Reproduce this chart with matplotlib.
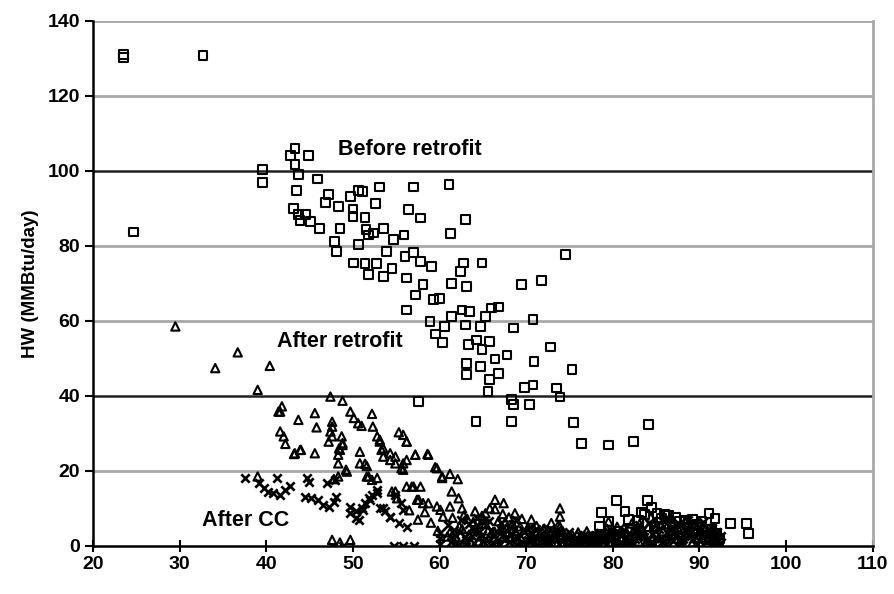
import matplotlib
matplotlib.use("Agg")
import matplotlib.pyplot as plt

# Before retrofit (squares)
before_x = [23.5, 23.5, 32.7, 24.7,
            39.6, 39.6, 43.3, 42.8, 44.9, 43.3, 43.7, 45.9, 43.5, 47.2, 46.8, 48.3, 49.7, 50.6, 51.1,
            53.1, 57.0, 52.6, 50.0, 50.0, 51.4, 43.1, 43.7, 44.5, 43.9, 45.1, 46.1, 48.5, 56.4, 57.8,
            51.5, 52.4, 53.5, 51.8, 54.7, 55.9, 47.9, 48.1, 50.6, 53.9, 56.0, 57.0, 57.8, 59.1, 50.1,
            51.4, 52.7, 54.5, 51.8, 53.5, 56.2,
            61.1, 63.0, 61.3, 74.5, 62.8, 62.4, 64.9,
            58.1, 61.4, 63.1, 69.5, 71.8, 57.2, 59.3, 60.0, 56.2, 58.9, 61.4, 62.6, 63.5, 60.6, 59.5,
            60.3, 63.0, 64.7, 65.3, 66.0, 66.8, 68.5, 70.8, 63.3, 64.3, 64.9, 65.8, 66.4, 67.8, 63.1,
            63.1, 64.7, 65.8, 66.8, 70.9, 72.8, 75.3, 69.8, 70.8, 73.5, 73.9, 65.6, 57.6, 68.3, 68.5,
            70.4, 64.2, 68.3, 75.5, 76.4, 79.5, 82.4, 84.1,
            80.4, 81.4, 78.7, 78.5, 79.5, 84.0, 84.5, 86.4, 91.1, 91.8, 93.6, 95.4, 95.7, 90.3, 88.4,
            92.2, 92.0, 83.7, 86.0,
            79.2, 80.8, 82.0, 83.0, 84.8, 85.6, 86.9, 87.7, 88.9, 89.7, 90.6, 91.4, 92.3, 87.2, 89.2,
            86.3, 85.1, 83.3, 81.8, 80.6]
before_y = [130.3, 131.0, 130.7, 83.7,
            100.3, 96.9, 106.0, 104.0, 104.0, 101.6, 99.0, 97.8, 94.7, 93.6, 91.6, 90.5, 93.2, 94.7, 94.5,
            95.7, 95.7, 91.2, 89.8, 87.8, 87.6, 90.0, 88.3, 88.3, 86.8, 86.5, 84.7, 84.7, 89.6, 87.4,
            84.4, 83.4, 84.7, 82.9, 81.6, 82.9, 81.1, 78.5, 80.3, 78.5, 77.2, 78.2, 75.8, 74.5, 75.4,
            75.2, 75.2, 74.0, 72.3, 71.8, 71.4,
            96.3, 87.1, 83.2, 77.6, 75.4, 73.2, 75.4,
            69.6, 69.9, 69.2, 69.6, 70.7, 66.9, 65.6, 66.0, 62.9, 59.8, 61.2, 62.9, 62.5, 58.5, 56.5,
            54.2, 58.9, 58.5, 61.2, 63.4, 63.7, 58.1, 60.4, 53.6, 54.9, 52.4, 54.5, 49.8, 50.9, 48.7,
            45.6, 47.8, 44.3, 45.9, 49.1, 53.0, 47.1, 42.3, 42.9, 42.1, 39.7, 41.2, 38.5, 39.1, 37.6,
            37.6, 33.1, 33.1, 32.9, 27.2, 26.9, 27.8, 32.3,
            12.1, 9.2, 8.9, 5.3, 6.5, 12.1, 10.2, 8.0, 8.7, 7.4, 5.9, 5.9, 3.2, 6.5, 6.9,
            0.8, 3.4, 8.3, 8.3,
            3.1, 2.0, 4.5, 6.8, 5.2, 7.3, 4.0, 6.5, 3.2, 5.8, 2.1, 4.4, 1.9, 7.5, 7.1,
            8.0, 8.6, 8.9, 7.1, 3.9]

# After retrofit (triangles)
after_x = [29.5, 36.7, 34.1, 40.4, 39.0, 47.4, 48.8, 41.8, 41.4, 43.7, 45.6, 45.8, 47.6, 41.6, 42.0,
           42.2, 43.2, 43.9, 45.6, 47.4, 47.6, 49.7, 50.1, 50.6, 51.0, 52.2, 48.4, 48.3, 48.3, 48.7,
           48.8, 50.8, 50.8, 51.4, 49.3, 52.3, 52.8, 53.1, 53.5, 54.3, 54.9, 55.3, 56.2, 57.2, 58.6,
           55.8, 59.7, 60.3, 51.8, 52.8, 56.2, 57.0, 57.8, 54.9, 57.4, 58.1, 47.6, 48.5, 49.7, 39.0,
           41.6, 47.6, 55.8, 47.2, 48.8, 48.5, 43.3, 44.0, 49.2, 51.6, 53.1, 53.3, 53.5, 54.3, 54.9,
           55.6, 56.2, 47.8, 48.3, 51.6, 52.2, 54.5, 55.1,
           56.2, 57.2, 58.7, 55.8, 59.5, 60.3, 61.2, 62.1, 56.8, 61.4, 62.2, 57.6, 58.7, 59.7, 60.1,
           61.2, 62.6, 64.1, 65.3, 66.4, 67.4, 68.7, 65.8, 73.9, 73.9, 72.0, 79.5,
           61.5, 62.3, 62.8, 63.4, 63.9, 64.5, 65.0, 65.6, 66.2, 66.8, 67.3, 67.9, 68.4, 69.0, 69.5,
           70.1, 70.7, 71.2, 71.8, 72.4, 72.9, 73.5, 74.2, 74.8, 75.3, 75.9, 76.5, 77.0, 77.6, 78.2,
           78.8, 79.3, 79.9, 80.5, 81.0, 81.6, 82.2, 82.7, 83.3, 83.9, 84.4, 85.0, 85.6, 86.1, 86.7,
           87.3, 87.8, 88.4, 89.0, 89.5, 90.1, 90.7, 91.2, 91.8,
           56.5, 57.5, 58.3, 59.0, 59.8, 60.4, 60.9,
           61.2, 62.0, 62.6, 63.2, 64.2, 64.8, 65.3, 66.0, 66.6, 67.1, 67.6, 68.1, 68.7, 69.3, 69.8,
           70.4, 71.0, 71.5, 72.1, 72.7, 73.2, 73.7, 74.5, 75.1, 75.6, 76.2, 76.8, 77.3, 77.9, 78.5,
           79.1, 79.6, 80.2, 80.8, 81.3, 81.9, 82.4, 83.0, 83.6, 84.1, 84.7, 85.3, 85.8, 86.4, 87.0,
           87.5, 88.1, 88.7, 89.2, 89.8, 90.4, 91.0, 91.5,
           62.2, 63.6, 65.5, 67.0, 68.9, 70.9, 72.3, 74.3, 76.0, 77.8, 79.8, 81.5, 83.1, 84.9, 86.9,
           88.6, 90.2, 91.6, 64.9, 66.4, 68.0, 70.6, 73.9]
after_y = [58.5, 51.6, 47.4, 48.0, 41.6, 39.8, 38.7, 37.2, 35.8, 33.6, 35.4, 31.6, 33.1, 30.5, 29.2,
           27.2, 24.5, 25.6, 24.7, 30.5, 29.2, 35.8, 34.1, 32.7, 32.0, 35.2, 26.0, 24.3, 22.0, 29.2,
           26.9, 25.1, 22.0, 21.9, 19.8, 31.8, 29.2, 27.8, 26.0, 24.7, 23.8, 30.3, 27.8, 24.3, 24.5,
           22.0, 20.7, 18.5, 18.5, 18.1, 15.8, 15.8, 15.8, 14.5, 12.3, 11.4, 1.6, 0.9, 1.6, 18.5,
           35.8, 31.8, 29.6, 27.8, 27.4, 25.6, 24.7, 25.6, 20.3, 21.3, 28.3, 25.6, 23.8, 22.9, 22.0,
           20.7, 22.9, 17.8, 18.5, 18.5, 17.6, 14.5, 12.7,
           27.8, 24.3, 24.3, 20.3, 21.0, 18.1, 19.2, 17.8, 15.8, 14.5, 12.7, 12.3, 11.4, 10.5, 9.6,
           10.5, 10.0, 9.2, 8.7, 12.3, 11.4, 8.7, 10.0, 7.8, 5.1, 4.5, 6.5,
           7.5, 5.2, 8.1, 3.0, 6.4, 1.2, 7.0, 4.1, 2.3, 6.6, 8.5, 3.7, 5.9, 1.8, 7.2,
           4.4, 2.6, 5.3, 0.9, 3.4, 6.1, 2.1, 4.0, 1.3, 3.0, 0.6, 2.4, 3.9, 1.5, 3.2,
           0.8, 4.6, 2.2, 5.1, 1.7, 3.6, 6.0, 2.8, 4.9, 1.0, 7.6, 3.3, 5.6, 2.0, 7.1,
           4.2, 1.4, 6.3, 3.1, 5.4, 0.7, 4.5, 2.5, 1.1,
           9.5, 7.0, 9.0, 6.2, 4.0, 7.8, 2.5,
           3.6, 1.8, 4.5, 7.2, 4.6, 2.6, 5.9, 3.4, 1.0, 4.3, 6.3, 2.1, 3.9, 5.2, 0.4,
           2.1, 3.9, 1.5, 4.6, 0.6, 3.0, 5.5, 2.6, 1.5, 0.3, 1.4, 0.5, 2.2, 0.4, 1.7,
           2.7, 0.9, 2.8, 0.5, 4.8, 2.5, 4.1, 1.2, 3.2, 5.1, 2.4, 0.8, 3.9, 5.8, 2.9,
           5.0, 2.0, 4.1, 0.9, 3.0, 5.2, 1.6, 3.8,
           0.4, 1.0, 0.6, 2.5, 1.0, 0.2, 2.2, 0.8, 3.6, 2.6, 4.1, 0.9, 5.9, 6.4, 6.0,
           5.4, 3.7, 2.7, 8.0, 9.8, 7.6, 7.0, 10.0]

# After CC (x marks)
cc_x = [37.5, 39.1, 39.7, 40.2, 40.8, 41.6, 42.2, 42.7, 41.2, 44.7, 44.9, 44.5, 45.2, 46.0, 46.6,
        47.2, 47.8, 48.1, 47.0, 47.9, 49.7, 50.3, 50.7, 51.0, 51.4, 51.8, 52.2, 52.8, 53.1, 53.7,
        54.3, 54.9, 55.5, 55.8, 49.7, 50.4, 51.2, 52.0, 52.8, 53.5, 54.3, 55.3, 56.2,
        54.7, 55.8, 57.0, 47.6, 48.9,
        60.0, 60.0, 60.0, 61.0, 61.8, 62.5, 63.1, 63.7, 64.3, 64.9, 65.4, 66.0, 66.5, 67.1, 67.7,
        68.2, 68.8, 69.3, 69.9, 70.4, 71.0, 71.5, 72.1, 72.7, 73.2, 73.8, 74.4, 75.0, 75.6, 76.1,
        76.7, 77.3, 77.9, 78.5, 79.0, 79.6, 80.2, 80.8, 81.3, 81.9, 82.5, 83.0, 83.6, 84.2, 84.7,
        85.3, 85.9, 86.4, 87.0, 87.6, 88.1, 88.7, 89.3, 89.8, 90.4, 91.0, 91.5, 92.1, 92.5,
        61.3, 61.7, 62.1, 62.9, 63.4, 64.0, 64.6, 65.2, 65.7, 66.3, 66.9, 67.4, 68.0, 68.5, 69.1,
        69.6, 70.2, 70.7, 71.3, 71.8, 72.4, 72.9, 73.5, 74.1, 74.7, 75.3, 75.8, 76.4, 77.0, 77.6,
        78.2, 78.7, 79.3, 79.9, 80.5, 81.0, 81.6, 82.2, 82.8, 83.3, 83.9, 84.5, 85.0, 85.6, 86.2,
        86.7, 87.3, 87.9, 88.4, 89.0, 89.6, 90.1, 90.7, 91.3, 91.8, 92.3,
        61.5, 62.4, 63.0, 63.8, 64.4, 65.0, 65.9, 66.7, 67.3, 68.3, 69.0, 69.8, 70.5, 71.1, 71.9,
        72.6, 73.3, 74.0, 74.9, 75.5, 76.2, 76.9, 77.5, 78.0, 78.9, 79.5, 80.3, 81.1, 81.8, 82.6,
        83.4, 84.0, 84.9, 85.7, 86.5, 87.2, 88.0, 88.8, 89.5, 90.3, 91.1, 91.7, 92.0]
cc_y = [18.1, 16.7, 15.4, 14.5, 14.0, 13.6, 14.9, 16.0, 18.1, 18.1, 17.1, 13.1, 12.7, 12.3, 10.9,
        10.5, 11.8, 13.1, 16.7, 17.6, 10.5, 9.2, 6.9, 10.0, 11.4, 12.7, 13.6, 14.9, 10.0, 9.2,
        7.8, 13.6, 11.4, 9.6, 8.7, 7.4, 9.6, 12.3, 14.0, 10.0, 7.8, 6.0, 5.1,
        0.0, 0.0, 0.0, 0.0, 0.0,
        0.5, 2.0, 3.5, 5.5, 2.9, 6.8, 1.5, 4.8, 7.4, 3.0, 5.5, 0.8, 4.1, 6.2, 2.0,
        4.7, 7.0, 3.0, 0.6, 5.0, 2.4, 3.8, 1.2, 4.4, 2.9, 0.5, 2.5, 3.8, 1.6, 0.4,
        2.9, 1.1, 2.1, 3.4, 1.3, 3.8, 0.7, 2.9, 4.3, 1.6, 3.9, 5.6, 2.4, 6.1, 0.9,
        4.6, 6.8, 3.5, 1.2, 5.9, 3.0, 6.9, 1.9, 4.1, 6.4, 2.8, 4.9, 1.4, 2.6,
        1.0, 4.2, 0.3, 2.5, 5.8, 0.9, 3.6, 1.9, 6.6, 2.7, 0.2, 3.3, 1.0, 5.8, 2.2,
        4.3, 1.5, 3.2, 0.4, 2.0, 3.1, 1.6, 3.9, 1.2, 0.3, 2.6, 1.0, 1.9, 0.6, 2.8,
        1.0, 2.5, 0.4, 2.0, 4.0, 1.1, 2.4, 0.5, 2.8, 4.1, 1.5, 3.3, 5.5, 2.2, 0.6,
        4.8, 2.9, 0.4, 4.4, 2.6, 5.6, 1.3, 3.4, 0.6, 3.3, 0.5,
        2.2, 3.8, 0.6, 2.6, 5.2, 1.2, 3.9, 1.6, 5.1, 2.9, 0.3, 3.6, 1.0, 4.4, 2.8,
        0.9, 2.0, 3.2, 1.8, 0.8, 2.9, 1.6, 0.3, 3.0, 1.7, 2.9, 1.2, 3.3, 0.3, 1.9,
        3.0, 0.4, 2.0, 1.0, 2.4, 4.1, 1.6, 3.2, 0.5, 2.4, 4.6, 1.9, 3.7]

x_ticks = [20, 30, 40, 50, 60, 70, 80, 90, 100, 110]
y_ticks = [0, 20, 40, 60, 80, 100, 120, 140]

plt.rcParams['font.family'] = ['Liberation Sans', 'DejaVu Sans']

fig = plt.figure(figsize=(8.95, 5.94), dpi=100)
ax = fig.add_axes([0.104, 0.081, 0.871, 0.884])

# gridlines: 40 and 100 dark, others grey
for yv in [20, 60, 80, 120, 140]:
    ax.axhline(yv, color='#a8a8a8', lw=2.0, zorder=1)
for yv in [40, 100]:
    ax.axhline(yv, color='#202020', lw=1.8, zorder=1)

ax.scatter(before_x, before_y, marker='s', s=40, facecolors='none', edgecolors='black', linewidths=1.5, zorder=3)
ax.scatter(after_x, after_y, marker='^', s=36, facecolors='none', edgecolors='black', linewidths=1.5, zorder=3)
ax.scatter(cc_x, cc_y, marker='x', s=36, c='black', linewidths=1.9, zorder=3)

ax.text(56.6, 105.6, 'Before retrofit', ha='center', va='center', fontsize=15.5, fontweight='bold')
ax.text(48.5, 54.4, 'After retrofit', ha='center', va='center', fontsize=15.5, fontweight='bold')
ax.text(37.6, 6.7, 'After CC', ha='center', va='center', fontsize=15.5, fontweight='bold')

ax.set_xlim(20, 110)
ax.set_ylim(0, 140)
ax.set_xticks(x_ticks)
ax.set_yticks(y_ticks)
ax.tick_params(axis='both', labelsize=14, width=1.5, length=6, color='black')
ax.tick_params(axis='x', direction='inout', length=8)
for lab in ax.get_xticklabels() + ax.get_yticklabels():
    lab.set_fontweight('bold')

ax.set_ylabel('HW (MMBtu/day)', fontsize=13.5, fontweight='bold', labelpad=6)

ax.spines['left'].set_color('black')
ax.spines['left'].set_linewidth(1.8)
ax.spines['bottom'].set_color('black')
ax.spines['bottom'].set_linewidth(1.8)
ax.spines['right'].set_color('#a8a8a8')
ax.spines['right'].set_linewidth(2.0)
ax.spines['top'].set_visible(False)

fig.savefig('out.png', dpi=100)
